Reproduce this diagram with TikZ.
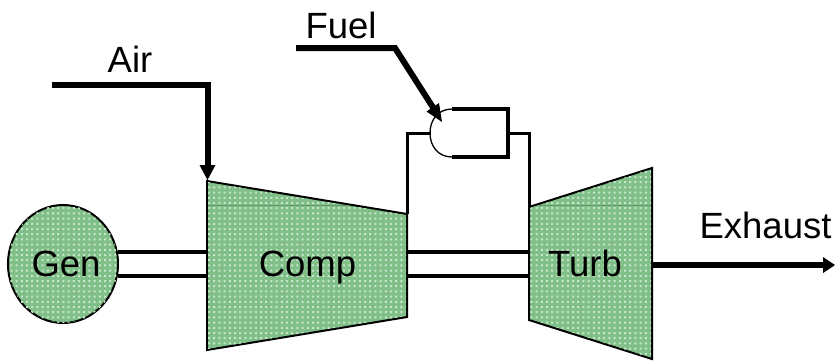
\documentclass[tikz,border=0pt]{standalone}
\usepackage{fontspec}
\setmainfont{Liberation Sans}
\usetikzlibrary{arrows.meta,patterns}
\definecolor{machgreen}{RGB}{128,192,136}
\definecolor{machlight}{RGB}{200,230,204}
\pgfdeclarepatternformonly{speckdots}{\pgfqpoint{0pt}{0pt}}{\pgfqpoint{2.6pt}{2.6pt}}{\pgfqpoint{5.2pt}{5.2pt}}{%
  \pgfpathrectangle{\pgfqpoint{0pt}{0pt}}{\pgfqpoint{2pt}{2pt}}%
  \pgfpathrectangle{\pgfqpoint{2.6pt}{2.6pt}}{\pgfqpoint{2pt}{2pt}}%
  \pgfusepath{fill}}
\tikzset{
  x=1pt,y=-1pt,
  machine/.style={draw=black,line width=2pt,fill=machgreen,line join=miter},
  speckle/.style={pattern=speckdots,pattern color=machlight},
  seam/.style={draw=machgreen!80!black,line width=0.5pt},
  pipe/.style={draw=black,line width=3.6pt,line join=miter},
  heavy/.style={draw=black,line width=6pt,line join=miter},
  lbl/.style={inner sep=0pt,anchor=base,font=\fontsize{36.5}{36.5}\selectfont,text=black}
}
\begin{document}
\begin{tikzpicture}
\useasboundingbox (0,0) rectangle (835,360);
% free ends and junctions
\coordinate (airstart) at (52,85);
\coordinate (airbend) at (207.5,85);
\coordinate (airend) at (207.5,166);
\coordinate (fuelstart) at (296,48);
\coordinate (fuelbend) at (395,48);
\coordinate (fuelend) at (434,109);
\coordinate (exstart) at (652,265);
\coordinate (exend) at (824,265);
\coordinate (c1) at (407,214);
\coordinate (c2) at (407,133);
\coordinate (c3) at (431,133);
\coordinate (t1) at (529,207);
\coordinate (t2) at (529,133);
\coordinate (t3) at (508,133);
% shafts
\draw[pipe] (118,252) -- (207,252);
\draw[pipe] (118,276) -- (207,276);
\draw[pipe] (407,252) -- (529,252);
\draw[pipe] (407,276) -- (529,276);
% machines
\path[machine] (63,264) ellipse [x radius=55,y radius=59];
\path[speckle] (63,264) ellipse [x radius=55,y radius=59];
\path[machine] (207,181) -- (407,214) -- (407,317) -- (207,350) -- cycle;
\path[speckle] (208,182) -- (406,215) -- (406,316) -- (208,349) -- cycle;
\path[machine] (529,207) -- (652,168) -- (652,359) -- (529,320) -- cycle;
\path[speckle] (530,208) -- (651,169) -- (651,358) -- (530,319) -- cycle;
\draw[seam] (208,205) -- (349,205);
\draw[seam] (537,205) -- (651,205);
% combustor
\draw[line width=1.3pt] (452,109) .. controls (438,109) and (430,120) .. (430,133) .. controls (430,146) and (438,157) .. (452,157);
\draw[pipe,line width=4pt] (452,109) -- (508,109) -- (508,157) -- (452,157);
% connectors
\draw[pipe,line width=3pt] (c1) -- (c2) -- (c3);
\draw[pipe,line width=3pt] (t3) -- (t2) -- (t1);
\draw[heavy] (airstart) -- (airbend) -- (airend);
\fill (199.5,165) -- (215.5,165) -- (207.5,180) -- cycle;
\draw[heavy] (fuelstart) -- (fuelbend) -- (fuelend);
\fill (426.5,111.5) -- (439,103) -- (442,122) -- cycle;
\draw[heavy] (exstart) -- (exend);
\fill (823,257) -- (835,265) -- (823,273) -- cycle;
% labels
\node[lbl] (gen) at (66,276) {Gen};
\node[lbl] (comp) at (307.5,276) {Comp};
\node[lbl] (turb) at (585,276) {Turb};
\node[lbl] (air) at (130,72) {Air};
\node[lbl] (fuel) at (341,38) {Fuel};
\node[lbl] (exhaust) at (765.5,238) {Exhaust};
\end{tikzpicture}
\end{document}
